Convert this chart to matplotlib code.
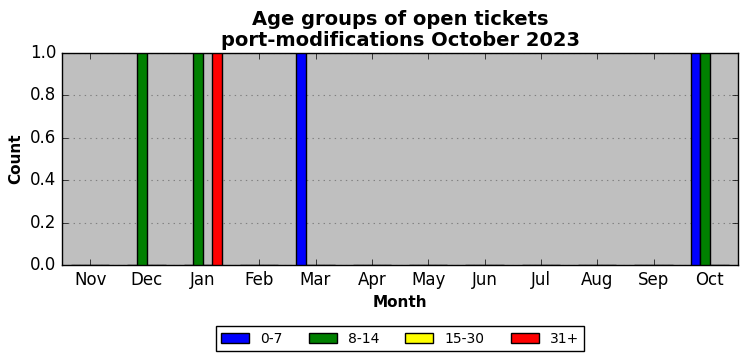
import numpy as np
import matplotlib
matplotlib.use('Agg')
import matplotlib.pyplot as plt

# --- Data ---
months = ['Nov', 'Dec', 'Jan', 'Feb', 'Mar', 'Apr', 'May', 'Jun', 'Jul', 'Aug', 'Sep', 'Oct']
age_0_7 = [0, 0, 0, 0, 1, 0, 0, 0, 0, 0, 0, 1]
age_8_14 = [0, 1, 1, 0, 0, 0, 0, 0, 0, 0, 0, 1]
age_15_30 = [0, 0, 0, 0, 0, 0, 0, 0, 0, 0, 0, 0]
age_31_plus = [0, 0, 1, 0, 0, 0, 0, 0, 0, 0, 0, 0]

series = [('0-7', age_0_7, 'blue'),
          ('8-14', age_8_14, 'green'),
          ('15-30', age_15_30, 'yellow'),
          ('31+', age_31_plus, 'red')]

plt.style.use('classic')
fig = plt.figure(figsize=(7.47, 3.61), dpi=100)
ax = fig.add_axes([0.083, 0.266, 0.905, 0.587])
ax.set_facecolor('#bfbfbf')

x = np.arange(len(months))
w = 0.17
for i, (label, vals, color) in enumerate(series):
    ax.bar(x + (i - 2) * w, vals, width=w, align='edge', color=color,
           edgecolor='black', linewidth=1, label=label, zorder=3)

ax.set_xlim(-0.5, len(months) - 0.5)
ax.set_ylim(0, 1.0)
ax.set_xticks(x)
ax.set_xticklabels(months, fontsize=12)
ax.set_yticks(np.arange(0, 1.01, 0.2))
ax.tick_params(axis='y', labelsize=12)
ax.yaxis.grid(True, linestyle=':', color='#808080', linewidth=0.8, zorder=0)
ax.set_axisbelow(True)

ax.set_xlabel('Month', fontsize=11, fontweight='bold')
ax.set_ylabel('Count', fontsize=11, fontweight='bold')
ax.set_title('Age groups of open tickets\nport-modifications October 2023',
             fontsize=14, fontweight='bold', linespacing=1.15)

ax.legend(loc='upper center', bbox_to_anchor=(0.5, -0.255), ncol=4,
          fontsize=10, frameon=True, fancybox=False, handlelength=2.0,
          handleheight=0.7, columnspacing=1.9, borderpad=0.4)

fig.savefig('out.png', dpi=100, facecolor='white')
